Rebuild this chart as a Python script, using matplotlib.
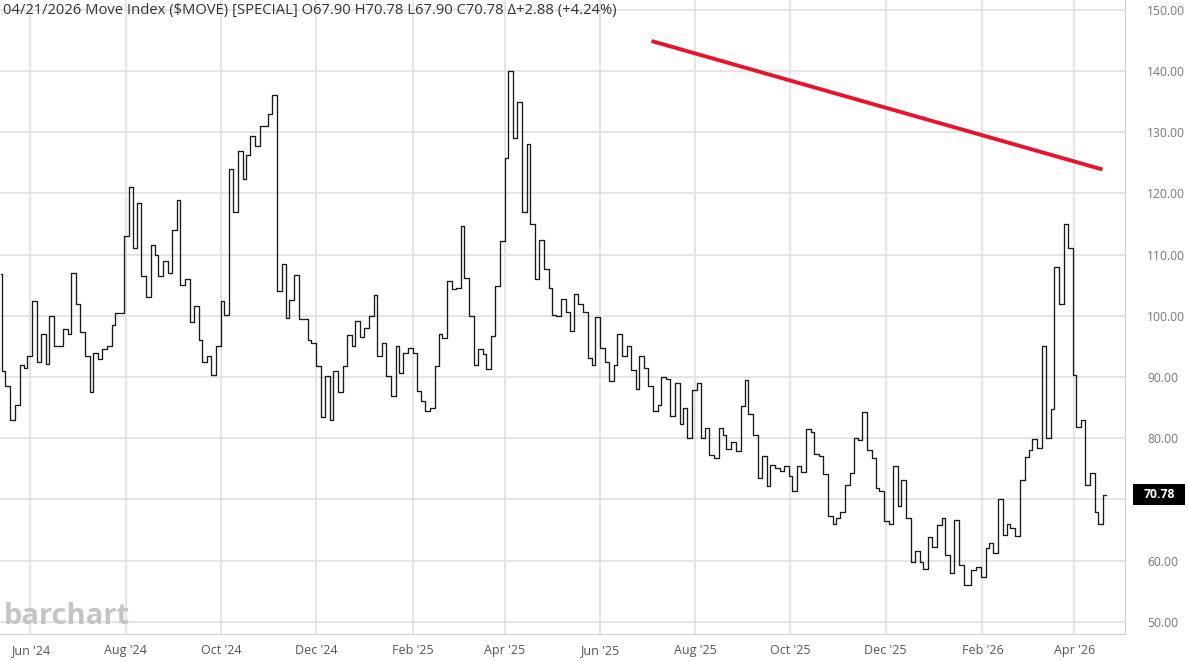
import matplotlib
matplotlib.use("Agg")
import matplotlib.pyplot as plt
import matplotlib.dates as mdates
from matplotlib.patches import Rectangle
import pandas as pd

plt.rcParams['font.family'] = ['Open Sans', 'DejaVu Sans']

# MOVE index closes, one reading every second trading day (13 May 2024 .. 21 Apr 2026)
closes = [
    106.8, 91.0, 88.5, 83.0, 85.5, 92.0, 91.4, 93.5, 102.4, 92.5,
    97.0, 92.2, 100.0, 95.0, 95.0, 97.8, 97.0, 107.0, 102.0, 97.3,
    93.5, 87.5, 94.0, 93.0, 94.6, 95.0, 98.5, 100.5, 100.5, 113.0,
    121.0, 111.0, 118.4, 106.5,
    103.0, 111.6, 110.0, 106.5, 109.0, 107.0, 114.0, 119.0, 105.0, 106.0,
    99.0, 101.6, 96.0, 92.5, 93.4, 90.4, 95.0, 102.4, 100.2, 124.0,
    117.0, 127.0, 122.3, 126.3, 129.3, 127.7, 131.0, 131.0, 133.0, 136.0,
    104.0, 108.5,
    99.6, 102.6, 106.6, 99.4, 99.5, 96.0, 95.6, 91.8, 83.4, 90.2,
    82.9, 91.0, 87.5, 91.8, 96.9, 95.0, 99.1, 96.6, 98.0, 100.0,
    103.4, 93.4, 95.6, 90.2, 86.9, 95.0, 90.7, 94.0, 94.8, 94.0,
    87.7,
    86.0, 84.5, 85.0, 91.8, 97.0, 96.4, 105.7, 104.3, 104.6, 114.6,
    106.2, 100.0, 92.0, 94.5, 93.7, 91.3, 96.7, 104.8, 112.2, 125.8,
    140.0, 129.0, 135.0, 117.0, 128.0, 115.0, 106.0, 112.4, 107.6, 104.6,
    100.2, 100.0,
    102.8, 100.6, 97.5, 103.5, 102.0, 100.6, 93.1, 92.0, 99.8, 94.7,
    92.5, 89.3, 92.0, 97.0, 93.4, 95.0, 91.2, 88.0, 93.4, 91.5,
    88.5, 84.4, 85.5, 90.0, 89.6, 83.6, 89.0, 82.3, 85.0, 80.0,
    87.9, 89.0, 80.1,
    81.7, 77.2, 76.8, 81.7, 80.6, 78.2, 79.3, 77.9, 85.3, 89.5,
    83.9, 80.5, 73.5, 77.1, 72.2, 75.7, 75.2, 74.6, 75.4, 73.8,
    71.4, 75.4, 74.4, 81.5, 81.0, 77.4, 77.1, 74.1, 67.3, 65.9,
    67.0, 68.0,
    72.4, 74.3, 80.0, 79.7, 84.3, 78.0, 76.7, 71.8, 71.3, 66.4,
    66.0, 75.4, 69.0, 73.2, 66.9, 59.8, 61.5, 59.8, 58.7, 63.9,
    62.3, 65.8, 66.9, 60.9, 57.9, 66.6, 59.3, 56.0, 56.0, 58.5,
    58.9, 57.4,
    62.0, 62.9, 61.2, 70.0, 64.2, 66.0, 65.3, 64.0, 73.2, 77.0,
    78.0, 79.8, 78.4, 95.0, 80.0, 84.7, 108.0, 102.0, 115.0, 111.0,
    90.4, 81.9, 83.0, 72.4, 74.3, 68.0, 65.9, 70.78,
]
dates = pd.bdate_range('2024-05-13', '2026-04-21')[::2]

trend_dates = pd.to_datetime(['2025-07-04', '2026-04-19'])
trend_vals = [144.9, 123.9]

last_close = 70.78
title = ("04/21/2026 Move Index (\\$MOVE) [SPECIAL] O67.90 H70.78 L67.90 "
         "C70.78 \u0394+2.88 (+4.24%)")

fig = plt.figure(figsize=(11.88, 6.61), dpi=100)
ax = fig.add_axes([0.0, 0.0408, 0.947, 0.9592])

ax.step(dates, closes, where='mid', color='#1a1a1a', lw=0.95, zorder=3)
ax.plot(trend_dates, trend_vals, color='#e8142f', lw=2.8, solid_capstyle='butt', zorder=4)

ax.set_xlim(mdates.date2num(pd.Timestamp('2024-05-13')) - 0.5,
            mdates.date2num(pd.Timestamp('2026-05-03')) + 0.4)
ax.set_ylim(48.0, 151.6)

ax.xaxis.set_major_locator(mdates.MonthLocator(bymonth=[2, 4, 6, 8, 10, 12]))
ax.xaxis.set_major_formatter(mdates.DateFormatter("%b '%y"))
ax.set_yticks(range(50, 151, 10))
# the 70.00 label sits under the last-price box, so it is left blank
ax.yaxis.set_major_formatter(matplotlib.ticker.FuncFormatter(
    lambda v, p: '' if abs(v - 70) < 1e-6 else f'{v:.2f}'))
ax.yaxis.tick_right()

ax.set_axisbelow(True)
ax.grid(True, color='#dedede', lw=1.1)
ax.tick_params(axis='x', length=0, pad=7, labelsize=9, labelcolor='#555555')
ax.tick_params(axis='y', length=0, pad=16, labelsize=8.7, labelcolor='#777777')
for s in ['top', 'left']:
    ax.spines[s].set_visible(False)
for s in ['right', 'bottom']:
    ax.spines[s].set_color('#d0d0d0')

ax.text(0.003, 0.983, title, transform=ax.transAxes, fontsize=10.6,
        color='#333333', ha='left', va='center')
ax.text(0.003, 0.028, 'barchart', transform=ax.transAxes, fontsize=21,
        fontweight='bold', color='#c4c4c4', ha='left', va='center')

# last price tag on the right axis
ytr = ax.get_yaxis_transform()
ax.add_patch(Rectangle((1.0071, last_close - 1.72), 0.0462, 3.43, transform=ytr,
                       fc='black', ec='none', clip_on=False, zorder=9))
ax.text(1.0302, last_close, f'{last_close:.2f}', transform=ytr, ha='center', va='center',
        fontsize=8.7, fontweight='bold', color='white', zorder=10, clip_on=False)

fig.savefig('out.png', dpi=100)
